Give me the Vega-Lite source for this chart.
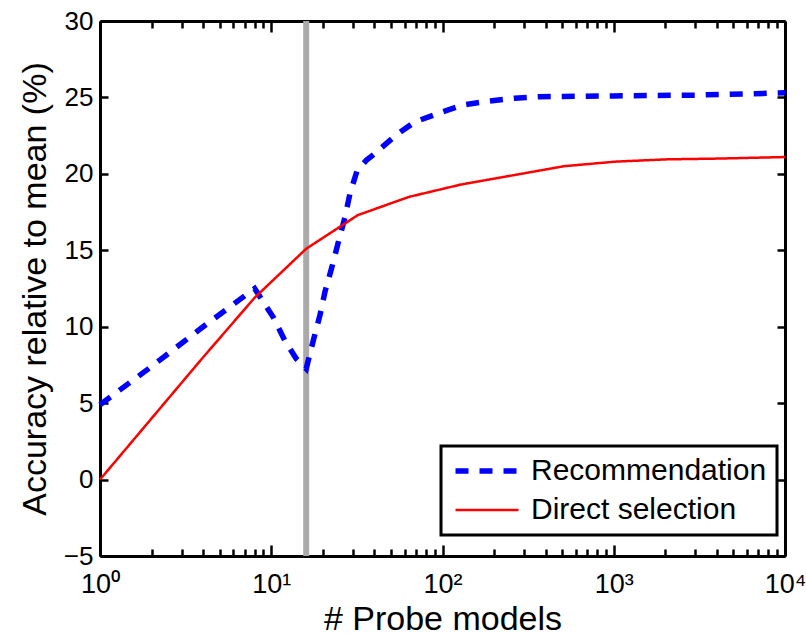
{
  "$schema": "https://vega.github.io/schema/vega-lite/v6.json",
  "width": 685,
  "height": 535,
  "autosize": {"type": "none"},
  "padding": {"left": 100, "top": 21, "right": 21, "bottom": 80},
  "background": "white",
  "config": {
    "view": {"stroke": null},
    "font": "Liberation Sans",
    "axis": {
      "domainColor": "black",
      "domainWidth": 3,
      "tickColor": "black",
      "tickWidth": 2.5,
      "grid": false,
      "labelColor": "black",
      "titleColor": "black",
      "labelFont": "Liberation Sans",
      "titleFont": "Liberation Sans",
      "titleFontWeight": "normal",
      "labelFlush": false
    }
  },
  "datasets": {
    "curves": [
      {"probe": 1, "acc": 4.9, "method": "Recommendation"},
      {"probe": 2, "acc": 7.4, "method": "Recommendation"},
      {"probe": 4, "acc": 10.0, "method": "Recommendation"},
      {"probe": 8, "acc": 12.5, "method": "Recommendation"},
      {"probe": 10.3, "acc": 10.6, "method": "Recommendation"},
      {"probe": 12, "acc": 9.1, "method": "Recommendation"},
      {"probe": 14, "acc": 7.9, "method": "Recommendation"},
      {"probe": 16, "acc": 7.25, "method": "Recommendation"},
      {"probe": 17.6, "acc": 9.1, "method": "Recommendation"},
      {"probe": 19.3, "acc": 10.8, "method": "Recommendation"},
      {"probe": 20.6, "acc": 12.3, "method": "Recommendation"},
      {"probe": 22.6, "acc": 13.9, "method": "Recommendation"},
      {"probe": 24.6, "acc": 15.5, "method": "Recommendation"},
      {"probe": 27, "acc": 17.2, "method": "Recommendation"},
      {"probe": 28.8, "acc": 18.7, "method": "Recommendation"},
      {"probe": 31.7, "acc": 20.2, "method": "Recommendation"},
      {"probe": 36, "acc": 20.9, "method": "Recommendation"},
      {"probe": 41, "acc": 21.4, "method": "Recommendation"},
      {"probe": 53, "acc": 22.5, "method": "Recommendation"},
      {"probe": 69, "acc": 23.4, "method": "Recommendation"},
      {"probe": 97, "acc": 24.0, "method": "Recommendation"},
      {"probe": 131, "acc": 24.5, "method": "Recommendation"},
      {"probe": 184, "acc": 24.75, "method": "Recommendation"},
      {"probe": 263, "acc": 24.95, "method": "Recommendation"},
      {"probe": 370, "acc": 25.05, "method": "Recommendation"},
      {"probe": 1000, "acc": 25.1, "method": "Recommendation"},
      {"probe": 3000, "acc": 25.15, "method": "Recommendation"},
      {"probe": 10000, "acc": 25.3, "method": "Recommendation"},
      {"probe": 1, "acc": 0, "method": "Direct selection"},
      {"probe": 2, "acc": 4.0, "method": "Direct selection"},
      {"probe": 4, "acc": 8.0, "method": "Direct selection"},
      {"probe": 8, "acc": 11.9, "method": "Direct selection"},
      {"probe": 16, "acc": 15.1, "method": "Direct selection"},
      {"probe": 32, "acc": 17.3, "method": "Direct selection"},
      {"probe": 64, "acc": 18.5, "method": "Direct selection"},
      {"probe": 128, "acc": 19.3, "method": "Direct selection"},
      {"probe": 256, "acc": 19.9, "method": "Direct selection"},
      {"probe": 512, "acc": 20.5, "method": "Direct selection"},
      {"probe": 1024, "acc": 20.8, "method": "Direct selection"},
      {"probe": 2048, "acc": 20.95, "method": "Direct selection"},
      {"probe": 4096, "acc": 21.0, "method": "Direct selection"},
      {"probe": 10000, "acc": 21.1, "method": "Direct selection"}
    ],
    "marker": [{"probe": 16}]
  },
  "layer": [
    {
      "data": {"name": "marker"},
      "mark": {"type": "rule", "color": "#aaaaaa", "strokeWidth": 6},
      "encoding": {
        "x": {
          "field": "probe",
          "type": "quantitative",
          "scale": {"type": "log", "domain": [1, 10000], "nice": false, "padding": 0},
          "axis": {
            "orient": "top",
            "labels": false,
            "title": null,
            "values": [1,2,3,4,5,6,7,8,9,10,20,30,40,50,60,70,80,90,100,200,300,400,500,600,700,800,900,1000,2000,3000,4000,5000,6000,7000,8000,9000,10000],
            "tickSize": {"condition": {"test": "indexof([1,10,100,1000,10000], datum.value) >= 0", "value": -11}, "value": -7}
          }
        },
        "y": {
          "datum": -5,
          "type": "quantitative",
          "scale": {"domain": [-5, 30], "nice": false, "zero": false, "padding": 0},
          "axis": {"orient": "right", "labels": false, "title": null, "values": [-5,0,5,10,15,20,25,30], "tickSize": -8}
        },
        "y2": {"datum": 30}
      }
    },
    {
      "data": {"name": "curves"},
      "mark": {"type": "line", "strokeCap": "butt"},
      "encoding": {
        "x": {
          "field": "probe",
          "type": "quantitative",
          "scale": {"type": "log", "domain": [1, 10000], "nice": false, "padding": 0},
          "axis": {
            "orient": "bottom",
            "title": "# Probe models",
            "titleFontSize": 34,
            "titlePadding": 5,
            "labelFontSize": 27,
            "labelPadding": 26,
            "values": [1,2,3,4,5,6,7,8,9,10,20,30,40,50,60,70,80,90,100,200,300,400,500,600,700,800,900,1000,2000,3000,4000,5000,6000,7000,8000,9000,10000],
            "labelExpr": "datum.value == 1 ? '10⁰' : datum.value == 10 ? '10¹' : datum.value == 100 ? '10²' : datum.value == 1000 ? '10³' : datum.value == 10000 ? '10⁴' : ''",
            "tickSize": {"condition": {"test": "indexof([1,10,100,1000,10000], datum.value) >= 0", "value": -11}, "value": -7}
          }
        },
        "y": {
          "field": "acc",
          "type": "quantitative",
          "scale": {"domain": [-5, 30], "nice": false, "zero": false, "padding": 0},
          "axis": {
            "orient": "left",
            "title": "Accuracy relative to mean (%)",
            "titleFontSize": 34,
            "titlePadding": 11,
            "labelFontSize": 26,
            "labelPadding": 15,
            "values": [-5,0,5,10,15,20,25,30],
            "tickSize": -8
          }
        },
        "color": {
          "field": "method",
          "type": "nominal",
          "scale": {"domain": ["Recommendation", "Direct selection"], "range": ["#0000ff", "#ff0000"]},
          "legend": {
            "title": null,
            "orient": "none",
            "legendX": 341,
            "legendY": 425,
            "symbolType": "M-1,0H5",
            "symbolSize": 441,
            "symbolFillColor": "transparent",
            "labelFontSize": 30,
            "labelFont": "Liberation Sans",
            "labelColor": "black",
            "labelOffset": 50,
            "labelLimit": 500,
            "padding": 10,
            "rowPadding": 9,
            "strokeColor": "black",
            "fillColor": "white",
            "encode": {"legend": {"update": {"strokeWidth": {"value": 3}}}}
          }
        },
        "strokeDash": {
          "field": "method",
          "type": "nominal",
          "scale": {"domain": ["Recommendation", "Direct selection"], "range": [[13, 11], [1, 0]]},
          "legend": null
        },
        "strokeWidth": {
          "field": "method",
          "type": "nominal",
          "scale": {"domain": ["Recommendation", "Direct selection"], "range": [5.5, 2.5]},
          "legend": null
        }
      }
    }
  ],
  "resolve": {"axis": {"x": "independent", "y": "independent"}}
}
